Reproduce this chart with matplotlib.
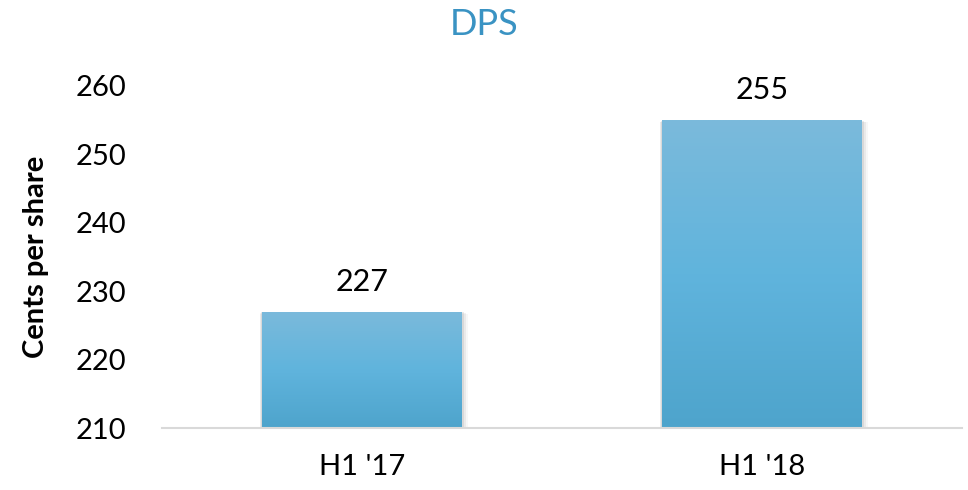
import numpy as np
import matplotlib.pyplot as plt
from matplotlib.colors import LinearSegmentedColormap
from matplotlib.patches import Rectangle

categories = ["H1 '17", "H1 '18"]
dps = [227, 255]
y_ticks = [210, 220, 230, 240, 250, 260]

plt.rcParams['font.family'] = ['Lato', 'DejaVu Sans']

fig = plt.figure(figsize=(9.68, 4.9), dpi=100)
ax = fig.add_axes([0.1674, 0.1265, 0.8264, 0.698])

base = 210
width = 0.5
x = np.arange(len(categories))

# vertical gradient: lighter at the top, deeper at the bottom
cmap = LinearSegmentedColormap.from_list('bar', ['#4ea4cc', '#60b4dd', '#7bbadb'])
grad = np.linspace(0, 1, 256).reshape(-1, 1)

for xi, val in zip(x, dps):
    left = xi - width / 2
    # soft glow/shadow around the bar
    for k, a in enumerate([0.08, 0.05, 0.03]):
        off = 0.004 * (k + 1)
        ax.add_patch(Rectangle((left - off * 0.5, base - 0.2 * (k + 1)), width + off * 1.8,
                               val - base + 0.1 * (k + 1),
                               facecolor='black', alpha=a, edgecolor='none', zorder=1))
    bar = Rectangle((left, base), width, val - base, facecolor='none', edgecolor='none', zorder=2)
    ax.add_patch(bar)
    im = ax.imshow(grad, cmap=cmap, origin='lower', aspect='auto',
                   extent=(left, left + width, base, val), zorder=2)
    im.set_clip_path(bar)
    ax.text(xi, val + 3.1, str(val), ha='center', va='baseline', fontsize=22, color='black')

ax.set_xlim(-0.5, 1.5)
ax.set_ylim(210, 260)
ax.set_xticks(x)
ax.set_xticklabels(categories, fontsize=21)
ax.set_yticks(y_ticks)
ax.tick_params(axis='y', labelsize=21, length=0, pad=26)
ax.tick_params(axis='x', length=0, pad=19)

for side in ['top', 'right', 'left']:
    ax.spines[side].set_visible(False)
ax.spines['bottom'].set_color('#d9d9d9')
ax.spines['bottom'].set_linewidth(1.5)
ax.spines['bottom'].set_zorder(3)

ax.set_ylabel('Cents per share', fontsize=21, fontweight='bold', labelpad=19)
fig.text(0.5, 0.949, 'DPS', ha='center', va='center', fontsize=26, color='#3a93c3')

fig.savefig('out.png', dpi=100)
